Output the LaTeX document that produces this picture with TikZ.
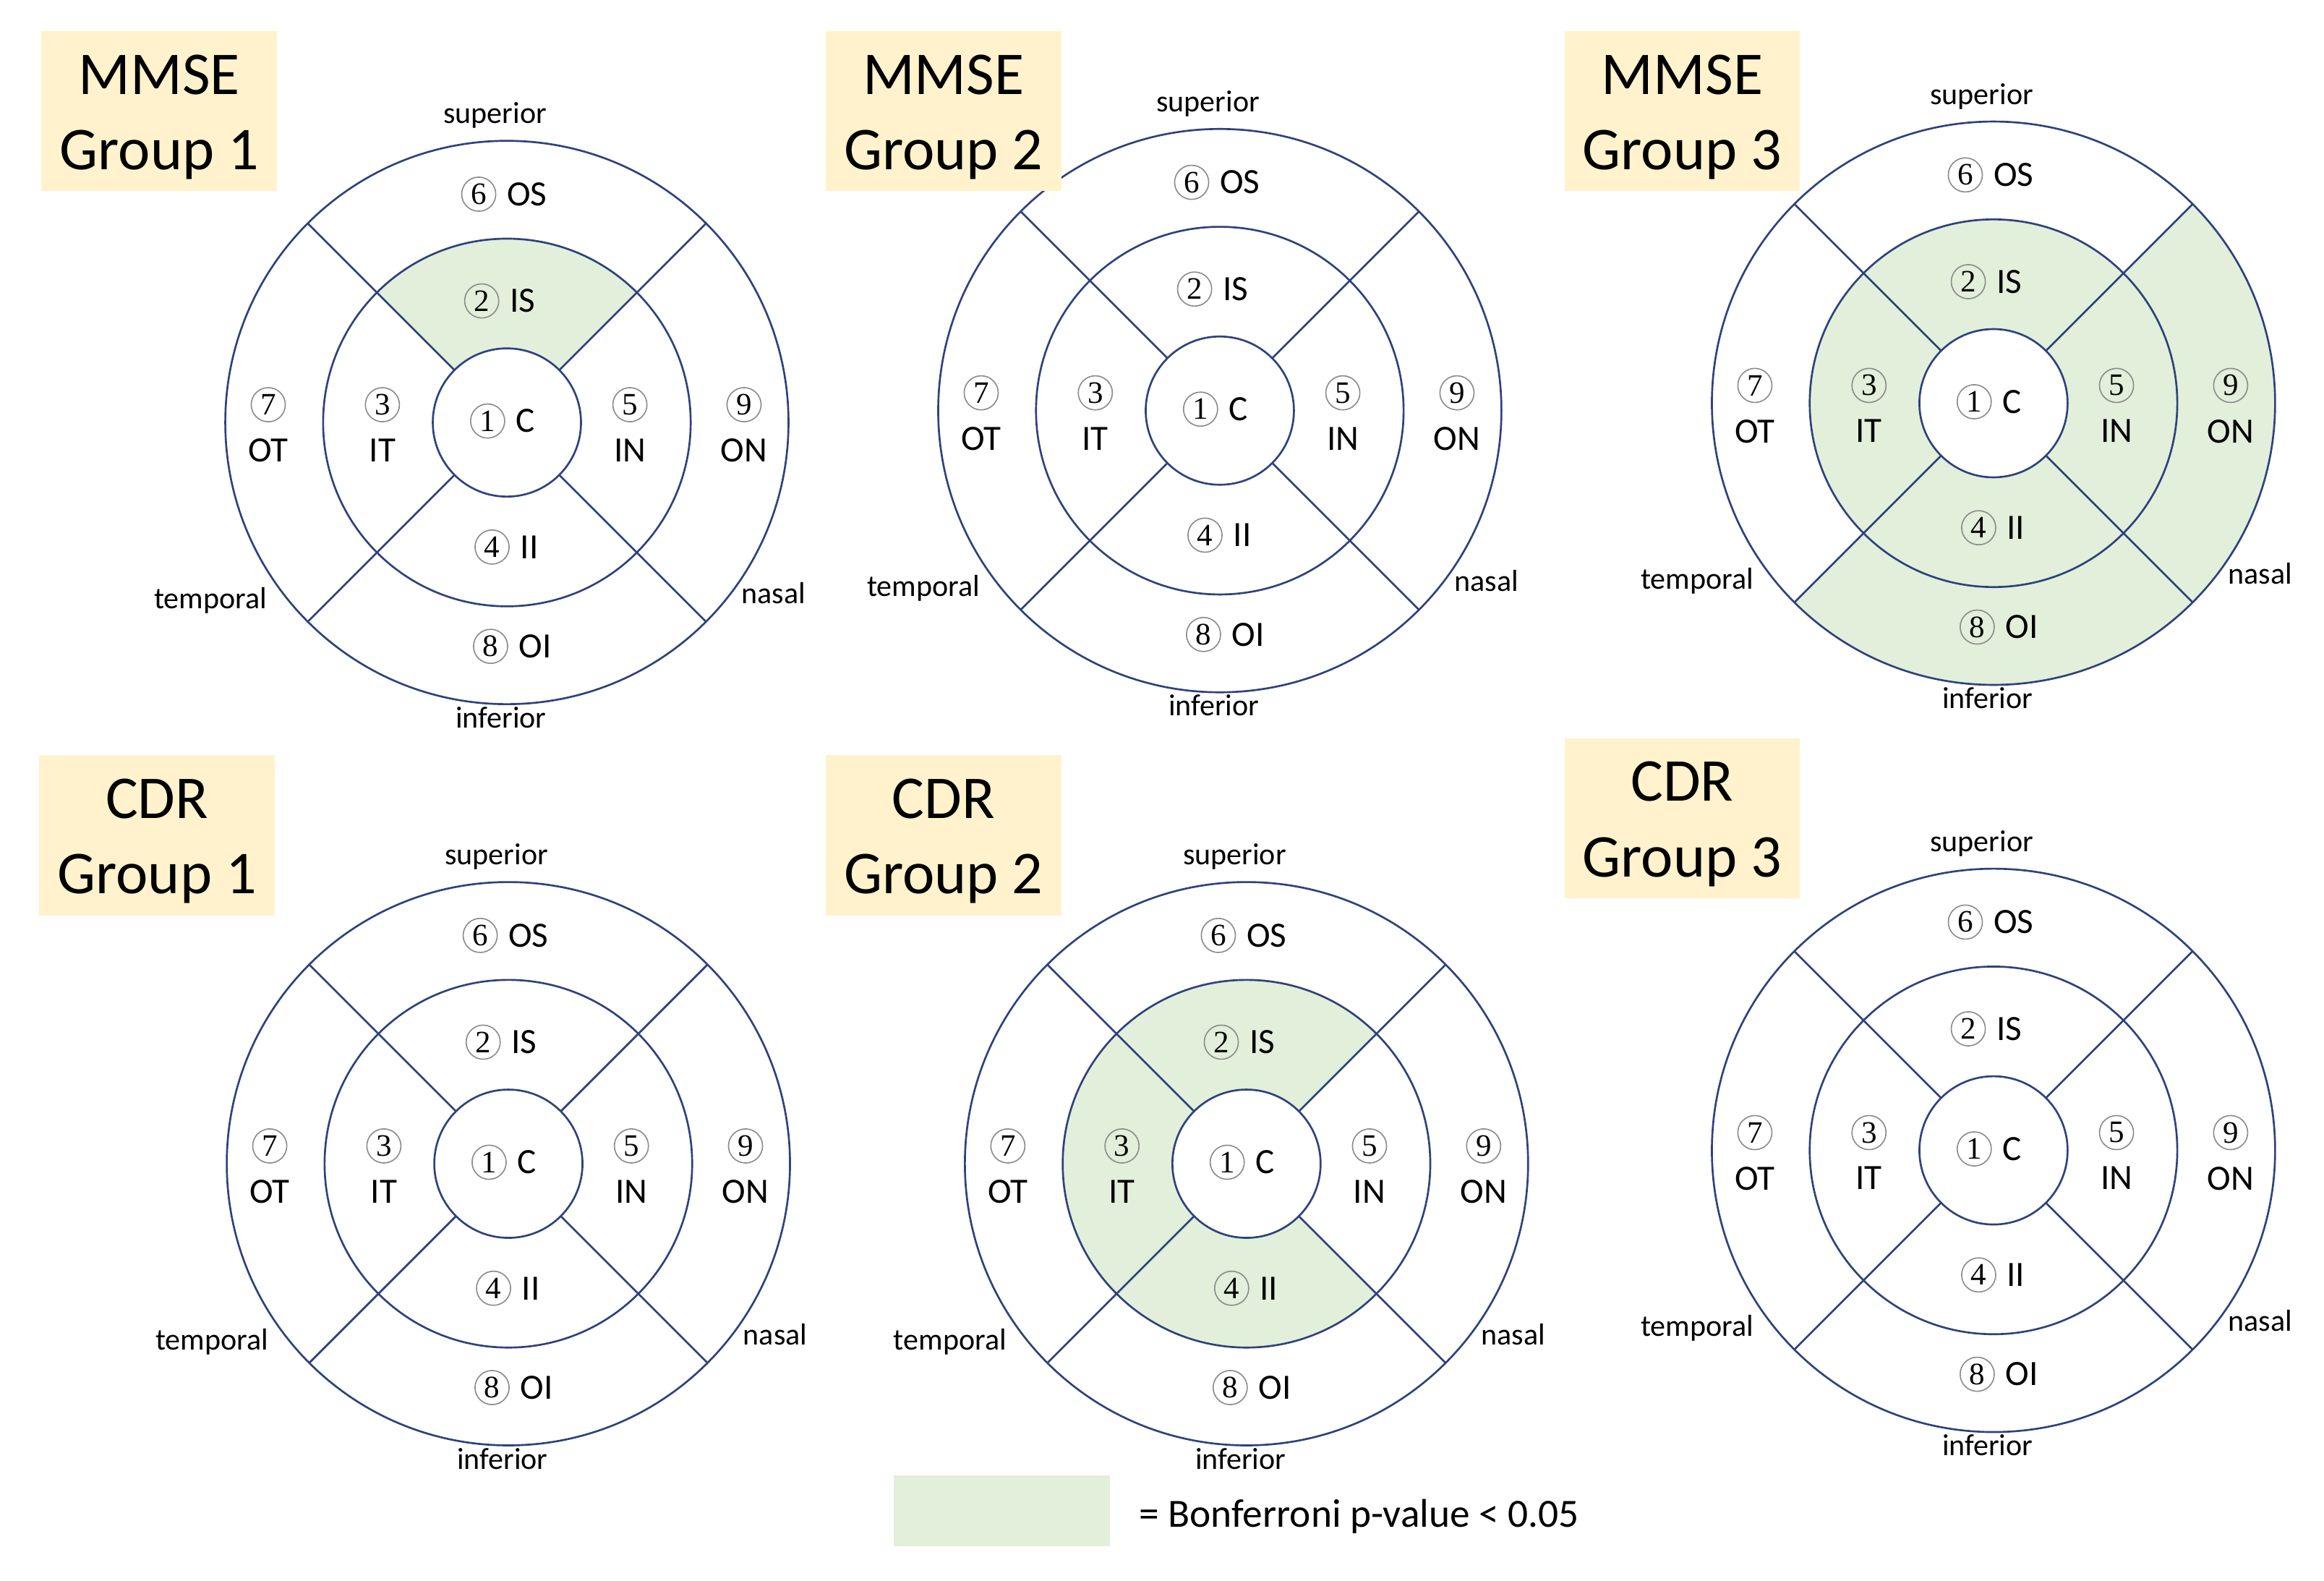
\documentclass[tikz,border=0pt]{standalone}
\usepackage{fontspec}
\setmainfont{Carlito}
\newfontfamily\numfont{Liberation Serif}
\usetikzlibrary{positioning}
\definecolor{ringblue}{RGB}{46,66,124}
\definecolor{sigfill}{RGB}{226,239,218}
\definecolor{titlefill}{RGB}{255,242,204}
\tikzstyle{ring}=[circle,draw=ringblue,line width=1.3pt,inner sep=0pt,outer sep=0pt]
\tikzstyle{divider}=[draw=ringblue,line width=1.3pt]
\tikzstyle{numring}=[circle,draw=black!45,line width=0.8pt,inner sep=0pt,minimum size=23pt,font=\numfont\fontsize{21}{21}\selectfont]
\tikzstyle{region}=[inner sep=0pt,font=\fontsize{24}{24}\selectfont]
\tikzstyle{side}=[inner sep=0pt,font=\fontsize{20.5}{20.5}\selectfont]
\tikzstyle{titlebox}=[fill=titlefill,minimum width=159pt,minimum height=108pt,inner sep=0pt]
\tikzstyle{titletext}=[inner sep=0pt,align=center,font=\fontsize{41}{51}\selectfont]

\begin{document}
\begin{tikzpicture}[x=1pt,y=1pt]
\useasboundingbox (0,0) rectangle (1568,1066);

% significant sectors: centre / direction / inner / outer radius
\foreach \cx/\cy/\a/\ra/\rb in {342/781/90/50/124,
    1345/794/0/50/124, 1345/794/90/50/124, 1345/794/180/50/124, 1345/794/270/50/124,
    1345/794/0/124/190, 1345/794/270/124/190,
    841/281/90/50/124, 841/281/180/50/124, 841/281/270/50/124}
  \fill[sigfill,shift={(\cx,\cy)}] ({\a-45}:\ra) arc[start angle=\a-45,end angle=\a+45,radius=\ra]
    -- ({\a+45}:\rb) arc[start angle=\a+45,end angle=\a-45,radius=\rb] -- cycle;

\foreach \p/\cx/\cy in {mA/342/781, mB/823/789, mC/1345/794, cA/343/281, cB/841/281, cC/1345/290}{
  \node[ring,minimum size=380pt] (\p-out) at (\cx,\cy) {};
  \node[ring,minimum size=248pt] (\p-mid) at (\cx,\cy) {};
  \node[ring,minimum size=100pt] (\p-in) at (\cx,\cy) {};
  \foreach \a in {45,135,225,315}
    \path[divider] (\p-in.\a) -- (\p-out.\a);

  \foreach \n/\name/\dx/\dy in {6/OS/-19/154, 2/IS/-17/82, 1/C/-13/1, 4/II/-10/-84, 8/OI/-11/-151}{
    \node[numring] (\p-n\n) at (\cx+\dx,\cy+\dy) {\n};
    \node[region,right=7pt of \p-n\n] (\p-\name) {\name};
  }
  \foreach \n/\name/\dx in {7/OT/-161, 3/IT/-84, 5/IN/83, 9/ON/160}{
    \node[numring] (\p-n\n) at (\cx+\dx,\cy+12) {\n};
    \node[region,below=11pt of \p-n\n] (\p-\name) {\name};
  }

  \node[side] (\p-sup) at (\cx-8,\cy+207) {superior};
  \node[side] (\p-inf) at (\cx-4,\cy-199) {inferior};
  \node[side] (\p-tmp) at (\cx-200,\cy-120) {temporal};
  \node[side] (\p-nas) at (\cx+180,\cy-115) {nasal};
}

\foreach \pos/\name/\txt in {{(107.5,991)}/mA-title/{MMSE\\Group 1}, {(636.5,991)}/mB-title/{MMSE\\Group 2},
    {(1135,991)}/mC-title/{MMSE\\Group 3}, {(106,502.5)}/cA-title/{CDR\\Group 1},
    {(636.5,502.5)}/cB-title/{CDR\\Group 2}, {(1135,514)}/cC-title/{CDR\\Group 3}}{
  \node[titlebox] (\name) at \pos {};
  \node[titletext] (\name-txt) at ([yshift=-4pt]\name.center) {\txt};
}

\node[fill=sigfill,minimum width=146pt,minimum height=48pt,inner sep=0pt] (key) at (676,47) {};
\node[inner sep=0pt,right=19pt of key,yshift=-4pt,font=\fontsize{27}{27}\selectfont] (keytext) {= Bonferroni p-value < 0.05};

\end{tikzpicture}
\end{document}
